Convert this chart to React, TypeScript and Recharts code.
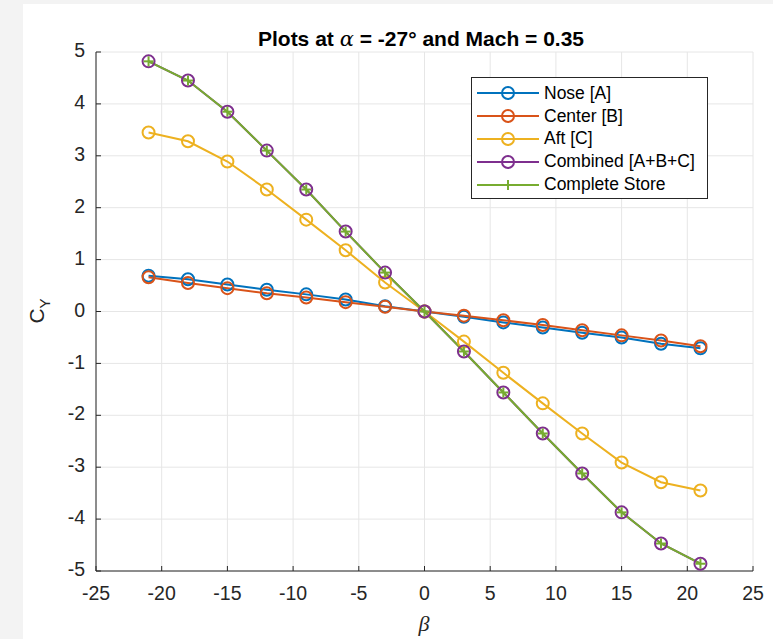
import React from "react";
import {
  LineChart,
  Line,
  XAxis,
  YAxis,
  CartesianGrid,
  Legend,
} from "recharts";

// sideslip angle, deg
const beta = [-21, -18, -15, -12, -9, -6, -3, 0, 3, 6, 9, 12, 15, 18, 21];

const nose = [0.69, 0.62, 0.52, 0.42, 0.33, 0.23, 0.1, 0, -0.1, -0.21, -0.31, -0.41, -0.5, -0.62, -0.71];
const center = [0.66, 0.55, 0.45, 0.35, 0.27, 0.18, 0.09, 0, -0.08, -0.17, -0.26, -0.36, -0.46, -0.56, -0.67];
const aft = [3.45, 3.28, 2.89, 2.35, 1.77, 1.18, 0.56, 0, -0.58, -1.18, -1.77, -2.35, -2.91, -3.29, -3.45];
const combined = [4.82, 4.45, 3.85, 3.1, 2.35, 1.54, 0.75, 0, -0.77, -1.56, -2.35, -3.12, -3.87, -4.47, -4.86];
const complete = [4.82, 4.45, 3.85, 3.1, 2.35, 1.54, 0.75, 0, -0.77, -1.56, -2.35, -3.12, -3.87, -4.47, -4.86];

const xTicks = [-25, -20, -15, -10, -5, 0, 5, 10, 15, 20, 25];
const yTicks = [-5, -4, -3, -2, -1, 0, 1, 2, 3, 4, 5];

const data = beta.map((b, i) => ({
  beta: b,
  nose: nose[i],
  center: center[i],
  aft: aft[i],
  combined: combined[i],
  complete: complete[i],
}));

const series = [
  { key: "nose", name: "Nose [A]", color: "#0072BD", plus: false },
  { key: "center", name: "Center [B]", color: "#D95319", plus: false },
  { key: "aft", name: "Aft [C]", color: "#EDB120", plus: false },
  { key: "combined", name: "Combined [A+B+C]", color: "#7E2F8E", plus: false },
  { key: "complete", name: "Complete Store", color: "#77AC30", plus: true },
];

const FONT = "'Liberation Sans', Arial, Helvetica, sans-serif";
const AXIS = "#262626";

const XTick = (props: any) => {
  const { x, y, payload } = props;
  return (
    <g>
      <line x1={x} y1={y} x2={x} y2={y - 5} stroke={AXIS} strokeWidth={1} />
      <text x={x} y={y + 24} textAnchor="middle" dominantBaseline="middle" fontSize={19.5} fill={AXIS} fontFamily={FONT}>
        {payload.value}
      </text>
    </g>
  );
};

const YTick = (props: any) => {
  const { x, y, payload } = props;
  return (
    <g>
      <line x1={x} y1={y} x2={x + 5} y2={y} stroke={AXIS} strokeWidth={1} />
      <text x={x - 11} y={y} textAnchor="end" dominantBaseline="middle" fontSize={19.5} fill={AXIS} fontFamily={FONT}>
        {payload.value}
      </text>
    </g>
  );
};

const PlusDot = (props: any) => {
  const { cx, cy, stroke } = props;
  if (cx == null || cy == null) return null;
  return (
    <g>
      <line x1={cx - 5} y1={cy} x2={cx + 5} y2={cy} stroke={stroke} strokeWidth={2} />
      <line x1={cx} y1={cy - 5} x2={cx} y2={cy + 5} stroke={stroke} strokeWidth={2} />
    </g>
  );
};

const renderLegend = () => (
  <div
    style={{
      width: 237,
      height: 122,
      border: "1px solid #262626",
      background: "#fff",
      fontFamily: FONT,
      fontSize: 17.5,
      color: "#000",
      padding: "4px 0",
      boxSizing: "border-box",
      textAlign: "left",
    }}
  >
    {series.map((s) => (
      <div key={s.key} style={{ display: "flex", alignItems: "center", height: 22.8 }}>
        <svg width={72} height={20} style={{ flex: "none" }}>
          <line x1={5} y1={10} x2={67} y2={10} stroke={s.color} strokeWidth={2} />
          {s.plus ? (
            <g>
              <line x1={31} y1={10} x2={41} y2={10} stroke={s.color} strokeWidth={2} />
              <line x1={36} y1={5} x2={36} y2={15} stroke={s.color} strokeWidth={2} />
            </g>
          ) : (
            <circle cx={36} cy={10} r={6} fill="none" stroke={s.color} strokeWidth={2} />
          )}
        </svg>
        <span style={{ whiteSpace: "nowrap" }}>{s.name}</span>
      </div>
    ))}
  </div>
);

export default function App() {
  return (
    <div
      style={{
        position: "fixed",
        left: 0,
        top: 0,
        width: 773,
        height: 639,
        background: "#f3f3f3",
        overflow: "hidden",
      }}
    >
      <div style={{ position: "absolute", left: 23, top: 4, width: 750, height: 635, background: "#fff" }} />
      <div style={{ position: "absolute", left: 0, top: 0 }}>
        <LineChart
          width={773}
          height={639}
          data={data}
          margin={{ top: 52, right: 20, bottom: 38, left: 36 }}
        >
          <CartesianGrid stroke="#e6e6e6" strokeWidth={1} />
          <XAxis
            dataKey="beta"
            type="number"
            domain={[-25, 25]}
            ticks={xTicks}
            height={30}
            tickSize={0}
            tickMargin={0}
            tick={<XTick />}
            tickLine={false}
            axisLine={{ stroke: AXIS, strokeWidth: 1 }}
            interval={0}
          />
          <YAxis
            type="number"
            domain={[-5, 5]}
            ticks={yTicks}
            width={60}
            tickSize={0}
            tickMargin={0}
            tick={<YTick />}
            tickLine={false}
            axisLine={{ stroke: AXIS, strokeWidth: 1 }}
            interval={0}
          />
          <Legend
            content={renderLegend}
            layout="horizontal"
            verticalAlign="middle"
            align="center"
            wrapperStyle={{ position: "absolute", left: 471, top: 77, width: 237, height: 122 }}
          />
          {series.map((s) =>
            s.plus ? (
              <Line
                key={s.key}
                dataKey={s.key}
                name={s.name}
                stroke={s.color}
                strokeWidth={2}
                type="linear"
                dot={<PlusDot />}
                activeDot={false}
                isAnimationActive={false}
              />
            ) : (
              <Line
                key={s.key}
                dataKey={s.key}
                name={s.name}
                stroke={s.color}
                strokeWidth={2}
                type="linear"
                dot={{ r: 6, fill: "none", stroke: s.color, strokeWidth: 2 }}
                activeDot={false}
                isAnimationActive={false}
              />
            )
          )}
        </LineChart>
      </div>
      <div
        style={{
          position: "absolute",
          left: 421,
          top: 39,
          transform: "translate(-50%, -50%)",
          fontFamily: FONT,
          fontSize: 21,
          fontWeight: "bold",
          color: "#000",
          whiteSpace: "nowrap",
        }}
      >
        Plots at{" "}
        <span style={{ fontFamily: "'DejaVu Serif', 'Liberation Serif', serif", fontStyle: "italic", fontWeight: "normal" }}>
          α
        </span>{" "}
        = -27° and Mach = 0.35
      </div>
      <div
        style={{
          position: "absolute",
          left: 39,
          top: 311,
          transform: "translate(-50%, -50%) rotate(-90deg)",
          fontFamily: FONT,
          fontSize: 21,
          color: AXIS,
          whiteSpace: "nowrap",
        }}
      >
        C<sub style={{ fontSize: 15 }}>Y</sub>
      </div>
      <div
        style={{
          position: "absolute",
          left: 424,
          top: 624,
          transform: "translate(-50%, -50%)",
          fontFamily: "'Liberation Serif', 'DejaVu Serif', serif",
          fontStyle: "italic",
          fontSize: 22,
          color: AXIS,
        }}
      >
        β
      </div>
    </div>
  );
}
